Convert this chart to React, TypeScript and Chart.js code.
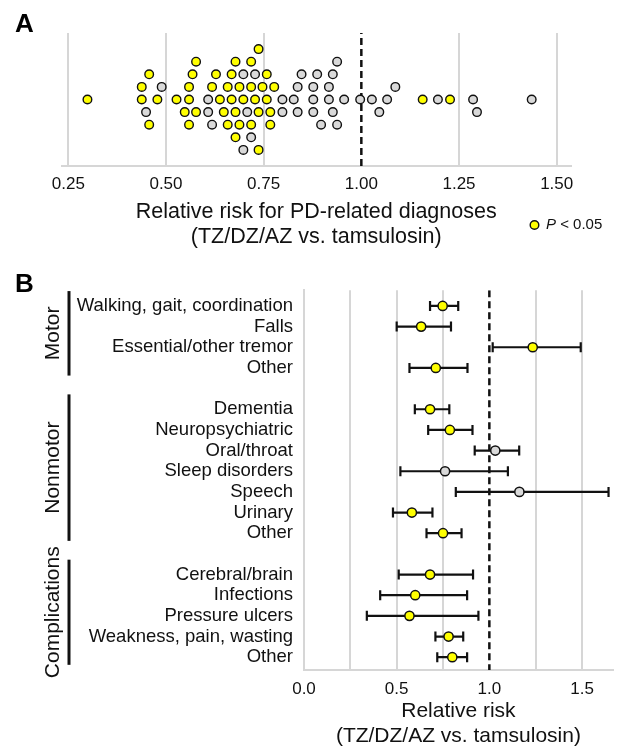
import React, { useEffect, useRef } from 'react';
import { Chart, registerables } from 'chart.js';

Chart.register(...registerables);

const FONT = '"Liberation Sans", Arial, Helvetica, sans-serif';
const TEXT = '#111111';
const GRID = '#d6d6d6';
const YELLOW = '#ffff00';
const GREY = '#d9d9d9';

// ---------- Panel A: relative risk of each PD-related diagnosis ----------
const sigRR = [
  0.299, 0.438, 0.438, 0.457, 0.457, 0.478, 0.527, 0.548, 0.559, 0.559, 0.559,
  0.568, 0.577, 0.577, 0.618, 0.628, 0.638, 0.648, 0.658, 0.658, 0.668, 0.668,
  0.678, 0.678, 0.678, 0.688, 0.688, 0.698, 0.718, 0.718, 0.718, 0.728, 0.737,
  0.737, 0.737, 0.747, 0.758, 0.758, 0.767, 0.767, 0.777, 1.157, 1.227,
];
const nsRR = [
  0.449, 0.489, 0.608, 0.608, 0.618, 0.698, 0.698, 0.708, 0.718, 0.728, 0.798,
  0.798, 0.827, 0.837, 0.837, 0.847, 0.877, 0.877, 0.877, 0.887, 0.897, 0.917,
  0.917, 0.927, 0.927, 0.938, 0.938, 0.956, 0.997, 1.027, 1.046, 1.066, 1.087,
  1.196, 1.286, 1.296, 1.436,
];
const panelATitle = ['Relative risk for PD-related diagnoses', '(TZ/DZ/AZ vs. tamsulosin)'];
const legendItalic = 'P';
const legendRest = '< 0.05';

// ---------- Panel B: grouped outcomes with 95% CI ----------
const groupNames = ['Motor', 'Nonmotor', 'Complications'];
const outcomeLabels = [
  'Walking, gait, coordination', 'Falls', 'Essential/other tremor', 'Other',
  'Dementia', 'Neuropsychiatric', 'Oral/throat', 'Sleep disorders', 'Speech', 'Urinary', 'Other',
  'Cerebral/brain', 'Infections', 'Pressure ulcers', 'Weakness, pain, wasting', 'Other',
];
const outcomeGroup = [0, 0, 0, 0, 1, 1, 1, 1, 1, 1, 1, 2, 2, 2, 2, 2];
const outcomeRR = [0.748, 0.632, 1.234, 0.711, 0.680, 0.787, 1.032, 0.761, 1.162, 0.582, 0.750, 0.680, 0.600, 0.569, 0.780, 0.800];
const outcomeLow = [0.680, 0.500, 1.018, 0.569, 0.598, 0.670, 0.921, 0.520, 0.819, 0.480, 0.661, 0.511, 0.411, 0.339, 0.709, 0.719];
const outcomeHigh = [0.832, 0.793, 1.493, 0.882, 0.784, 0.909, 1.161, 1.100, 1.643, 0.693, 0.850, 0.912, 0.880, 0.941, 0.859, 0.880];
const outcomeSig = [true, true, true, true, true, true, false, false, false, true, true, true, true, true, true, true];
const panelBTitle = ['Relative risk', '(TZ/DZ/AZ vs. tamsulosin)'];

// ---------- layout constants ----------
const W = 620;
const A_H = 250;
const A_AREA = { left: 61.5, right: 571, top: 33, bottom: 166 };
const A_XMIN = 0.2326;
const A_XMAX = 1.5366;
const B_TOP = 270;
const B_H = 479;
const B_AREA = { left: 304, right: 615, top: 13, bottom: 400 };
const B_XMIN = 0;
const B_XMAX = 1.666;
const B_YMIN = -0.76;
const B_YMAX = 17.62;

// Beeswarm on a row grid: points (ascending) take the free row nearest the
// centre line, choosing the less crowded side first.
function beeswarm(values: number[], pxPerUnit: number, diameter: number, step: number): number[] {
  const order = values.map((_, i) => i).sort((a, b) => values[a] - values[b]);
  const placed: { x: number; y: number }[] = [];
  const out = new Array(values.length).fill(0);
  const D2 = diameter * diameter;
  let up = 0;
  let down = 0;
  for (const i of order) {
    const x = values[i] * pxPerUnit;
    let done = false;
    for (let k = 0; k < 200 && !done; k++) {
      const signs = k === 0 ? [0] : up > down ? [-1, 1] : [1, -1];
      for (const s of signs) {
        const c = s * k * step;
        if (placed.every((p) => (p.x - x) ** 2 + (p.y - c) ** 2 >= D2 - 1e-3)) {
          out[i] = c;
          placed.push({ x, y: c });
          if (c > 0) up++;
          if (c < 0) down++;
          done = true;
          break;
        }
      }
    }
  }
  return out;
}

const gridColor = (ctx: any) => (ctx.tick && Math.abs(ctx.tick.value - 1) < 1e-9 ? 'rgba(0,0,0,0)' : GRID);

export default function App() {
  const refA = useRef<HTMLCanvasElement | null>(null);
  const refB = useRef<HTMLCanvasElement | null>(null);

  useEffect(() => {
    if (!refA.current || !refB.current) return;

    // ---- Panel A ----
    const allRR = [...sigRR, ...nsRR];
    const allSig = [...sigRR.map(() => true), ...nsRR.map(() => false)];
    const pxPerUnit = (A_AREA.right - A_AREA.left) / (A_XMAX - A_XMIN);
    const offsets = beeswarm(allRR, pxPerUnit, 11.0, 6.3);
    const halfH = (A_AREA.bottom - A_AREA.top) / 2;

    const legendPlugin = {
      id: 'pLegend',
      afterDraw(chart: any) {
        const ctx = chart.ctx;
        const cx = 534.5;
        const cy = 225;
        ctx.save();
        ctx.beginPath();
        ctx.arc(cx, cy, 4.3, 0, Math.PI * 2);
        ctx.fillStyle = YELLOW;
        ctx.fill();
        ctx.lineWidth = 1.4;
        ctx.strokeStyle = TEXT;
        ctx.stroke();
        ctx.fillStyle = TEXT;
        ctx.textBaseline = 'middle';
        ctx.textAlign = 'left';
        ctx.font = `italic 15px ${FONT}`;
        const x0 = 546;
        ctx.fillText(legendItalic, x0, cy);
        const wP = ctx.measureText(legendItalic + ' ').width;
        ctx.font = `15px ${FONT}`;
        ctx.fillText(legendRest, x0 + wP, cy);
        ctx.restore();
      },
    };

    const chartA = new Chart(refA.current, {
      type: 'scatter',
      data: {
        datasets: [
          {
            data: allRR.map((v, i) => ({ x: v, y: offsets[i] })),
            pointRadius: 4.3,
            pointHoverRadius: 4.3,
            pointBackgroundColor: allSig.map((s) => (s ? YELLOW : GREY)),
            pointBorderColor: TEXT,
            pointBorderWidth: 1.4,
          } as any,
          {
            type: 'line',
            data: [
              { x: 1, y: -halfH },
              { x: 1, y: halfH },
            ],
            borderColor: TEXT,
            borderWidth: 2.5,
            borderDash: [7, 4],
            pointRadius: 0,
            fill: false,
          } as any,
        ],
      },
      options: {
        responsive: false,
        animation: false,
        events: [],
        layout: { padding: { left: A_AREA.left, right: W - A_AREA.right, top: A_AREA.top, bottom: 0 } },
        plugins: { legend: { display: false }, tooltip: { enabled: false } },
        scales: {
          x: {
            type: 'linear',
            min: A_XMIN,
            max: A_XMAX,
            afterFit: (s: any) => {
              s.height = A_H - A_AREA.bottom;
            },
            ticks: {
              stepSize: 0.25,
              includeBounds: false,
              autoSkip: false,
              maxRotation: 0,
              padding: 8,
              color: TEXT,
              font: { family: FONT, size: 17 },
              callback: (v: any) => Number(v).toFixed(2),
            },
            grid: { color: gridColor, lineWidth: 2, drawTicks: false },
            border: { color: GRID, width: 2 },
            title: {
              display: true,
              text: panelATitle,
              color: TEXT,
              font: { family: FONT, size: 21.5, lineHeight: 1.17 },
              padding: 0,
            },
          },
          y: { type: 'linear', display: false, min: -halfH, max: halfH },
        },
      } as any,
      plugins: [legendPlugin],
    });

    // ---- Panel B ----
    const rows = outcomeGroup.map((g, i) => i + g);
    const whiskers: any[] = [];
    outcomeLow.forEach((lo, i) => {
      whiskers.push({ x: lo, y: rows[i] });
      whiskers.push({ x: outcomeHigh[i], y: rows[i] });
      whiskers.push({ x: null, y: null });
    });
    const rowLabel = (v: number) => {
      const idx = rows.indexOf(Math.round(v));
      return idx >= 0 ? outcomeLabels[idx] : '';
    };

    const groupPlugin = {
      id: 'groups',
      afterDraw(chart: any) {
        const ctx = chart.ctx;
        const y = chart.scales.y;
        ctx.save();
        groupNames.forEach((name, g) => {
          const gRows = rows.filter((_, i) => outcomeGroup[i] === g);
          const y1 = y.getPixelForValue(Math.min(...gRows) - 0.72);
          const y2 = y.getPixelForValue(Math.max(...gRows) + 0.37);
          ctx.strokeStyle = TEXT;
          ctx.lineWidth = 3;
          ctx.beginPath();
          ctx.moveTo(69, y1);
          ctx.lineTo(69, y2);
          ctx.stroke();
          ctx.save();
          ctx.translate(53, (y1 + y2) / 2);
          ctx.rotate(-Math.PI / 2);
          ctx.fillStyle = TEXT;
          ctx.font = `21px ${FONT}`;
          ctx.textAlign = 'center';
          ctx.textBaseline = 'middle';
          ctx.fillText(name, 0, 0);
          ctx.restore();
        });
        ctx.restore();
      },
    };

    const chartB = new Chart(refB.current, {
      type: 'scatter',
      data: {
        datasets: [
          {
            data: outcomeRR.map((v, i) => ({ x: v, y: rows[i] })),
            pointRadius: 4.6,
            pointHoverRadius: 4.6,
            pointBackgroundColor: outcomeSig.map((s) => (s ? YELLOW : GREY)),
            pointBorderColor: TEXT,
            pointBorderWidth: 1.5,
          } as any,
          {
            type: 'line',
            data: whiskers,
            borderColor: TEXT,
            borderWidth: 2.2,
            spanGaps: false,
            pointStyle: 'line',
            pointRotation: 90,
            pointRadius: 5,
            pointHoverRadius: 5,
            pointBorderColor: TEXT,
            pointBorderWidth: 2.2,
            fill: false,
          } as any,
          {
            type: 'line',
            data: [
              { x: 1, y: B_YMIN },
              { x: 1, y: B_YMAX },
            ],
            borderColor: TEXT,
            borderWidth: 2.5,
            borderDash: [7, 4],
            pointRadius: 0,
            fill: false,
          } as any,
        ],
      },
      options: {
        responsive: false,
        animation: false,
        events: [],
        layout: { padding: { left: 0, right: W - B_AREA.right, top: B_AREA.top, bottom: 0 } },
        plugins: { legend: { display: false }, tooltip: { enabled: false } },
        scales: {
          x: {
            type: 'linear',
            min: B_XMIN,
            max: B_XMAX,
            afterFit: (s: any) => {
              s.height = B_H - B_AREA.bottom;
            },
            ticks: {
              stepSize: 0.25,
              includeBounds: false,
              autoSkip: false,
              maxRotation: 0,
              padding: 9,
              color: TEXT,
              font: { family: FONT, size: 17 },
              callback: (v: any) => {
                const n = Number(v);
                return Math.abs(n * 2 - Math.round(n * 2)) < 1e-9 ? n.toFixed(1) : '';
              },
            },
            grid: { color: gridColor, lineWidth: 2, drawTicks: false },
            border: { color: GRID, width: 2 },
            title: {
              display: true,
              text: panelBTitle,
              color: TEXT,
              font: { family: FONT, size: 21, lineHeight: 1.2 },
              padding: 0,
            },
          },
          y: {
            type: 'linear',
            reverse: true,
            min: B_YMIN,
            max: B_YMAX,
            afterFit: (s: any) => {
              s.width = B_AREA.left;
            },
            ticks: {
              stepSize: 1,
              includeBounds: false,
              autoSkip: false,
              padding: 11,
              color: TEXT,
              font: { family: FONT, size: 18.5, lineHeight: 1 },
              callback: (v: any) => rowLabel(Number(v)),
            },
            grid: { display: false, drawTicks: false },
            border: { color: GRID, width: 2 },
          },
        },
      } as any,
      plugins: [groupPlugin],
    });

    return () => {
      chartA.destroy();
      chartB.destroy();
    };
  }, []);

  const letter: React.CSSProperties = {
    position: 'absolute',
    left: 15,
    fontFamily: FONT,
    fontWeight: 'bold',
    fontSize: 26,
    lineHeight: '26px',
    color: '#000',
  };

  return (
    <div style={{ position: 'absolute', left: 0, top: 0, width: W, height: 749, background: '#fff', overflow: 'hidden' }}>
      <canvas ref={refA} width={W} height={A_H} style={{ position: 'absolute', left: 0, top: 0, width: W, height: A_H }} />
      <canvas ref={refB} width={W} height={B_H} style={{ position: 'absolute', left: 0, top: B_TOP, width: W, height: B_H }} />
      <div style={{ ...letter, top: 10 }}>A</div>
      <div style={{ ...letter, top: 270 }}>B</div>
    </div>
  );
}
